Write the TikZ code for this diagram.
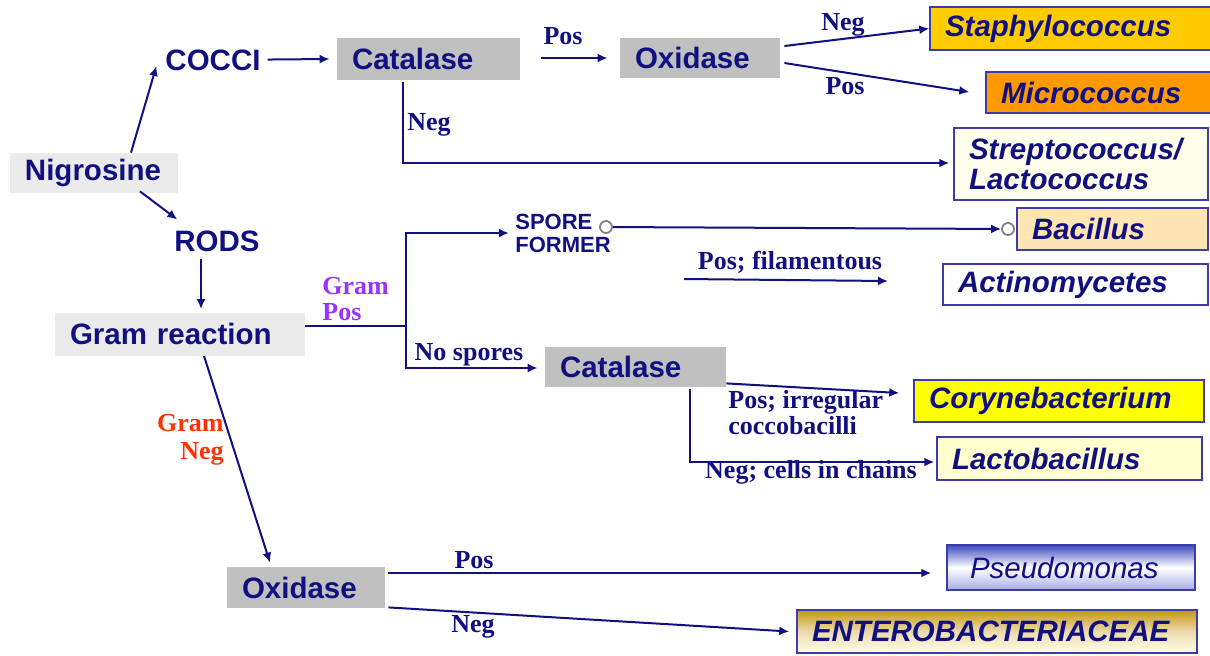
\documentclass[tikz,border=0pt]{standalone}
\usepackage{fontspec}
\setmainfont{Liberation Serif}
\setsansfont{Liberation Sans}
\usetikzlibrary{arrows.meta}

\definecolor{ink}{RGB}{16,16,128}
\definecolor{rim}{RGB}{60,60,170}
\definecolor{testgray}{RGB}{192,192,192}
\definecolor{startgray}{RGB}{235,235,235}
\definecolor{staphgold}{RGB}{255,204,0}
\definecolor{microorange}{RGB}{255,153,0}
\definecolor{strepcream}{RGB}{255,255,235}
\definecolor{bacpeach}{RGB}{255,228,180}
\definecolor{coryyellow}{RGB}{255,255,0}
\definecolor{lactocream}{RGB}{255,255,208}
\definecolor{pseudoblue}{RGB}{60,75,190}
\definecolor{enterogold}{RGB}{200,150,20}
\definecolor{grampos}{RGB}{153,51,255}
\definecolor{gramneg}{RGB}{255,51,0}

\tikzset{
  test/.style={fill=#1, text=ink, font=\sffamily\bfseries\fontsize{14.75}{16}\selectfont,
    align=left, inner xsep=7.5pt, inner ysep=0pt},
  test/.default=testgray,
  genus/.style={fill=#1, draw=rim, line width=0.7pt, text=ink,
    font=\sffamily\bfseries\itshape\fontsize{14.75}{15}\selectfont,
    align=left, inner xsep=7.5pt, inner ysep=0pt},
  shape word/.style={text=ink, font=\sffamily\bfseries\fontsize{14.75}{16}\selectfont},
  lbl/.style={text=ink, font=\rmfamily\bfseries\fontsize{13}{11.5}\selectfont, inner sep=0pt},
  arr/.style={draw=ink, line width=1pt, -{Latex[length=5pt,width=4.5pt]}},
  ln/.style={draw=ink, line width=1pt},
  joint/.style={circle, draw=gray, line width=0.9pt, fill=white, minimum size=6pt, inner sep=0pt}
}

\begin{document}
\begin{tikzpicture}[x=0.5pt, y=-0.5pt]
  \useasboundingbox (0,0) rectangle (1210,655);

  % start and morphology
  \node[test=startgray, text width=69pt, minimum height=20pt] (nig) at (94,173) {Nigrosine};
  \node[shape word] (cocci) at (213,60) {COCCI};
  \node[shape word] (rods) at (217,241) {RODS};
  \node[test=startgray, text width=110pt, minimum height=21.5pt] (gram) at (180,334) {Gram reaction};

  % tests
  \node[test, text width=76.5pt, minimum height=21pt] (cat1) at (428.5,59) {Catalase};
  \node[test, text width=65pt, minimum height=20pt] (ox1) at (700,58) {Oxidase};
  \node[test, text width=75.5pt, minimum height=20pt] (cat2) at (635.5,367) {Catalase};
  \node[test, text width=64pt, minimum height=20.5pt] (ox2) at (306,587.5) {Oxidase};
  \node[text=ink, font=\sffamily\bfseries\fontsize{11}{11.5}\selectfont, align=left, inner sep=3pt]
    (spore) at (563,233) {SPORE\\FORMER};

  % genera
  \node[genus=staphgold, text width=126pt, minimum height=21.5pt] (staph) at (1071,28.5) {Staphylococcus};
  \node[genus=microorange, text width=98pt, minimum height=20.5pt] (micro) at (1099,92.5) {Micrococcus};
  \node[genus=strepcream, text width=112pt, minimum height=36pt] (strep) at (1081,164) {Streptococcus/\\Lactococcus};
  \node[genus=bacpeach, text width=80.5pt, minimum height=21pt] (bac) at (1112.5,229) {Bacillus};
  \node[genus=white, text width=117.5pt, minimum height=20.5pt] (act) at (1075.5,284.5) {Actinomycetes};
  \node[genus=coryyellow, text width=130pt, minimum height=21pt] (cory) at (1059,401) {Corynebacterium};
  \node[genus=lactocream, text width=117.5pt, minimum height=21.5pt] (lacto) at (1069.5,458.5) {Lactobacillus};
  \node[genus=white, top color=pseudoblue, bottom color=pseudoblue!45!white, middle color=white,
    font=\sffamily\itshape\fontsize{14.75}{15}\selectfont, inner xsep=11.5pt,
    text width=101pt, minimum height=22.5pt] (pseudo) at (1071,567.5) {Pseudomonas};
  \node[genus=white, top color=enterogold, bottom color=yellow!8!white, middle color=enterogold!35!white,
    text width=185pt, minimum height=21.5pt] (entero) at (997,631.5) {ENTEROBACTERIACEAE};

  % joints and free arrow ends
  \node[joint] (sfo) at (606,227) {};
  \node[joint] (bco) at (1008,229) {};
  \coordinate (filA) at (684,279);
  \coordinate (filB) at (888,281);
  \coordinate (gj) at (406,326);

  % connectors
  \draw[arr] ([xshift=18.5pt]nig.north) -- ([xshift=-1pt,yshift=-3pt]cocci.west);
  \draw[arr] ([xshift=23pt,yshift=1pt]nig.south) -- ([xshift=5pt,yshift=2pt]rods.north west);
  \draw[arr] ([xshift=-8pt]rods.south) -- ([xshift=10.5pt,yshift=1.5pt]gram.north);
  \draw[arr] (cocci) -- ([xshift=-3.5pt]cat1.west);
  \draw[arr] ([xshift=10.5pt,yshift=0.5pt]cat1.east) -- ([xshift=-6pt]ox1.west);
  \draw[arr] ([xshift=2pt,yshift=6pt]ox1.east) -- (staph.west);
  \draw[arr] ([xshift=2pt,yshift=-2.5pt]ox1.east) -- ([xshift=-8pt,yshift=0.25pt]micro.west);
  \draw[arr] ([xshift=-12.75pt,yshift=-1pt]cat1.south) |- ([xshift=-2pt,yshift=0.5pt]strep.west);

  \draw[ln] ([yshift=4pt]gram.east) -- (gj);
  \draw[ln] (gj) -- (406,368);
  \draw[arr] (gj) |- (spore.west);
  \draw[arr] (gj) |- ([xshift=-3.5pt,yshift=-0.5pt]cat2.west);
  \draw[arr] (sfo) -- (bco);
  \draw[arr] (filA) -- (filB);
  \draw[arr] ([yshift=2pt]cat2.south east) -- ([xshift=-7pt,yshift=4pt]cory.west);
  \draw[arr] ([xshift=27.25pt,yshift=-1pt]cat2.south) |- ([xshift=-1pt,yshift=-1.75pt]lacto.west);

  \draw[arr] ([xshift=12pt]gram.south) -- ([xshift=-18pt,yshift=2pt]ox2.north);
  \draw[arr] ([xshift=1.5pt,yshift=7.25pt]ox2.east) -- ([xshift=-7.5pt,yshift=-2.75pt]pseudo.west);
  \draw[arr] ([xshift=1.5pt,yshift=0.5pt]ox2.south east) -- ([xshift=-3.5pt]entero.west);

  % edge labels
  \node[lbl] (l1) at (563,36) {Pos};
  \node[lbl] (l2) at (843,25) {Neg};
  \node[lbl] (l3) at (845,86) {Pos};
  \node[lbl] (l4) at (429,125) {Neg};
  \node[lbl] (l5) at (790,262) {Pos; filamentous};
  \node[lbl] (l6) at (469,355) {No spores};
  \node[lbl, align=left, anchor=west] (l7) at (728,412.5) {Pos; irregular\\coccobacilli};
  \node[lbl] (l8) at (811,472) {Neg; cells in chains};
  \node[lbl, text=grampos, align=left, anchor=west, font=\rmfamily\bfseries\fontsize{13}{13}\selectfont]
    (l9) at (322,299) {Gram\\Pos};
  \node[lbl, text=gramneg, align=right, anchor=east, font=\rmfamily\bfseries\fontsize{13}{14}\selectfont]
    (l10) at (224,440) {Gram\\Neg};
  \node[lbl] (l11) at (474,560) {Pos};
  \node[lbl] (l12) at (473,627) {Neg};
\end{tikzpicture}
\end{document}
